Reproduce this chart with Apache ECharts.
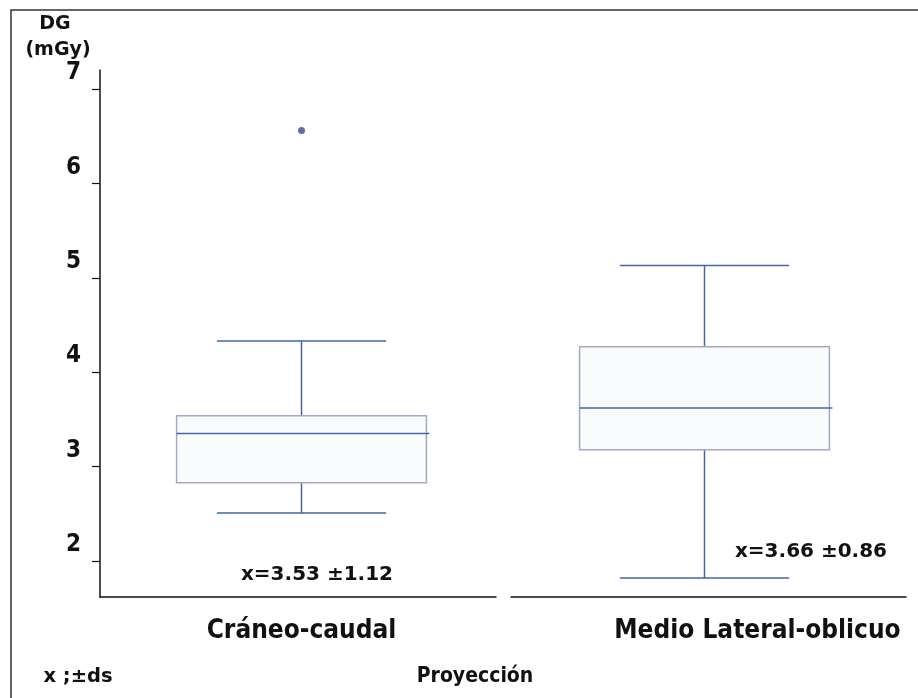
<!DOCTYPE html>
<html>
<head>
<meta charset="utf-8">
<script src="https://cdn.jsdelivr.net/npm/echarts@6/dist/echarts.min.js"></script>
<style>
  html, body { margin: 0; padding: 0; background: #ffffff; }
  #chart { width: 918px; height: 698px; }
</style>
</head>
<body>
<div id="chart"></div>
<script>
// Projections (categories)
const categories = ['Cráneo-caudal', 'Medio Lateral-oblicuo'];
// Box statistics per projection: [low whisker, Q1, median, Q3, high whisker] in mGy
const lowWhisker = [2.51, 1.82];
const q1 = [2.83, 3.18];
const median = [3.35, 3.62];
const q3 = [3.54, 4.27];
const highWhisker = [4.33, 5.13];
// Outliers: [category index, value]
const outliers = [[0, 6.56]];
// Mean ± SD annotations
const meanSdLabels = ['x=3.53 ±1.12', 'x=3.66 ±0.86'];
// Y axis tick labels
const yTicks = [2, 3, 4, 5, 6, 7];

const boxData = categories.map((c, i) => [i, lowWhisker[i], q1[i], median[i], q3[i], highWhisker[i]]);

const BOX_COLOR = '#a3a8c6';
const LINE_COLOR = '#4166a6';
const BOLD_COND = '"DejaVu Sans Condensed", "DejaVu Sans", sans-serif';
const BOLD = '"DejaVu Sans", Verdana, sans-serif';

const chart = echarts.init(document.getElementById('chart'), null, { renderer: 'canvas' });

chart.setOption({
  backgroundColor: '#ffffff',
  animation: false,
  grid: { left: 100, right: 12, top: 70, bottom: 101, containLabel: false },
  xAxis: {
    type: 'category',
    data: categories,
    axisLine: { show: true, lineStyle: { color: '#111', width: 1.5, type: [396, 15, 1000] } },
    axisTick: { show: false },
    splitLine: { show: false },
    axisLabel: {
      margin: 21,
      formatter: (v, i) => (i === 1 ? '{r|' + v + '}' : '{l|' + v + '}'),
      rich: {
        l: { fontFamily: BOLD_COND, fontWeight: 'bold', fontSize: 26, color: '#111' },
        r: { fontFamily: BOLD_COND, fontWeight: 'bold', fontSize: 26, color: '#111', padding: [0, 0, 0, 106] }
      }
    }
  },
  yAxis: {
    type: 'value',
    min: 1.62,
    max: 7.2,
    axisLine: { show: true, lineStyle: { color: '#111', width: 1.5 } },
    axisTick: { show: true, inside: false, length: 8, lineStyle: { color: '#111', width: 1.2 }, customValues: yTicks },
    splitLine: { show: false },
    axisLabel: {
      customValues: yTicks,
      margin: 19,
      fontFamily: BOLD_COND,
      fontWeight: 'bold',
      fontSize: 24,
      color: '#111',
      verticalAlign: 'bottom',
      lineHeight: 32
    }
  },
  graphic: [
    // outer frame (top and left edges)
    { type: 'polyline', silent: true, shape: { points: [[11, 698], [11, 10], [918, 10]] },
      style: { stroke: '#333', lineWidth: 1.5, fill: null } },
    { type: 'text', x: 55, y: 24, silent: true,
      style: { text: 'DG', font: 'bold 19px ' + BOLD, fill: '#111', align: 'center', verticalAlign: 'middle' } },
    { type: 'text', x: 58, y: 50, silent: true,
      style: { text: '(mGy)', font: 'bold 19px ' + BOLD, fill: '#111', align: 'center', verticalAlign: 'middle' } },
    { type: 'text', x: 317, y: 575, silent: true,
      style: { text: meanSdLabels[0], font: 'bold 20px ' + BOLD, fill: '#111', align: 'center', verticalAlign: 'middle' } },
    { type: 'text', x: 811, y: 552, silent: true,
      style: { text: meanSdLabels[1], font: 'bold 20px ' + BOLD, fill: '#111', align: 'center', verticalAlign: 'middle' } },
    { type: 'text', x: 78, y: 677, silent: true,
      style: { text: 'x ;±ds', font: 'bold 19.5px ' + BOLD, fill: '#111', align: 'center', verticalAlign: 'middle' } },
    { type: 'text', x: 475, y: 677, silent: true,
      style: { text: 'Proyección', font: 'bold 21px ' + BOLD_COND, fill: '#111', align: 'center', verticalAlign: 'middle' } }
  ],
  series: [
    {
      type: 'custom',
      data: boxData,
      encode: { x: 0, y: [1, 2, 3, 4, 5] },
      renderItem: function (params, api) {
        const idx = api.value(0);
        const pLo = api.coord([idx, api.value(1)]);
        const pQ1 = api.coord([idx, api.value(2)]);
        const pMed = api.coord([idx, api.value(3)]);
        const pQ3 = api.coord([idx, api.value(4)]);
        const pHi = api.coord([idx, api.value(5)]);
        const band = api.size([1, 0])[0];
        const cx = pMed[0];
        const boxHalf = band * 0.31;
        const capHalf = band * 0.21;
        const lineStyle = { stroke: LINE_COLOR, lineWidth: 1.5, fill: null };
        return {
          type: 'group',
          children: [
            { type: 'line', shape: { x1: cx, y1: pHi[1], x2: cx, y2: pQ3[1] }, style: lineStyle },
            { type: 'line', shape: { x1: cx, y1: pQ1[1], x2: cx, y2: pLo[1] }, style: lineStyle },
            { type: 'line', shape: { x1: cx - capHalf, y1: pHi[1], x2: cx + capHalf, y2: pHi[1] }, style: lineStyle },
            { type: 'line', shape: { x1: cx - capHalf, y1: pLo[1], x2: cx + capHalf, y2: pLo[1] }, style: lineStyle },
            { type: 'rect', shape: { x: cx - boxHalf, y: pQ3[1], width: boxHalf * 2, height: pQ1[1] - pQ3[1] },
              style: { stroke: BOX_COLOR, lineWidth: 1.5, fill: 'rgba(247,248,251,0.6)' } },
            { type: 'line', shape: { x1: cx - boxHalf, y1: pMed[1], x2: cx + boxHalf + 3, y2: pMed[1] }, style: lineStyle }
          ]
        };
      }
    },
    {
      type: 'scatter',
      data: outliers,
      symbol: 'circle',
      symbolSize: 7,
      itemStyle: { color: '#2d4f8a' }
    }
  ]
});
</script>
</body>
</html>
